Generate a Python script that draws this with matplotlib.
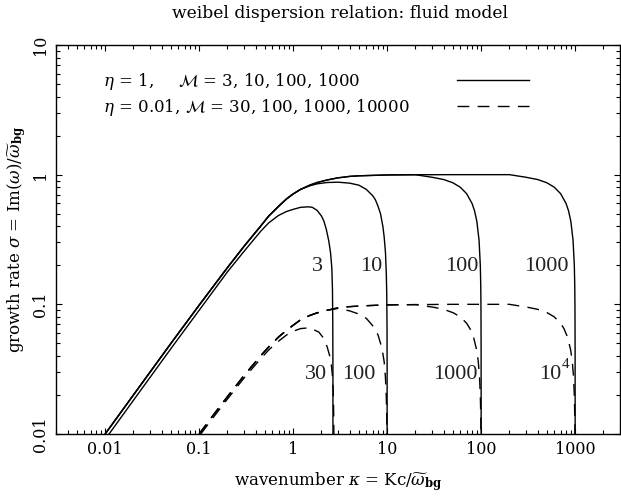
import matplotlib
import matplotlib.pyplot as plt
from matplotlib.ticker import FixedLocator, FixedFormatter, LogLocator, NullFormatter

matplotlib.use("Agg")

plt.rcParams["font.family"] = "DejaVu Serif"
plt.rcParams["mathtext.fontset"] = "dejavuserif"

# eta = 1 (solid), common envelope for large M
k_env1 = [0.01, 0.02, 0.05, 0.1, 0.2, 0.3, 0.45, 0.55, 0.7, 0.85, 1.0, 1.2,
          1.5, 1.8, 2.3, 3, 4, 5, 8, 10, 20, 50, 100, 200]
s_env1 = [0.0100, 0.0200, 0.0499, 0.0985, 0.192, 0.28, 0.40, 0.48, 0.57, 0.65,
          0.71, 0.77, 0.83, 0.87, 0.91, 0.945, 0.97, 0.98, 0.99, 0.995, 0.999,
          1.0, 1.0, 1.0]

k_m3 = [0.011, 0.02, 0.05, 0.1, 0.2, 0.3, 0.45, 0.55, 0.7, 0.85, 1.0, 1.2, 1.45,
        1.6, 1.8, 2.0, 2.12, 2.25, 2.39, 2.5, 2.58, 2.62, 2.64, 2.65, 2.652]
s_m3 = [0.0100, 0.0182, 0.0455, 0.090, 0.178, 0.256, 0.365, 0.425, 0.485, 0.52,
        0.54, 0.56, 0.565, 0.56, 0.53, 0.48, 0.44, 0.38, 0.31, 0.25, 0.19,
        0.13, 0.07, 0.03, 0.001]

k_m10 = [1.5, 1.8, 2.3, 3, 4, 5, 6, 7, 7.5, 8, 8.5, 9, 9.3, 9.6, 9.8, 9.9,
         9.97, 9.995, 10]
s_m10 = [0.82, 0.85, 0.87, 0.875, 0.86, 0.83, 0.77, 0.69, 0.64, 0.57, 0.50,
         0.40, 0.33, 0.25, 0.17, 0.12, 0.065, 0.03, 0.001]

k_m100 = [30, 40, 50, 60, 70, 80, 85, 90, 95, 98, 99, 99.5, 99.9, 99.99, 100]
s_m100 = [0.955, 0.917, 0.866, 0.80, 0.714, 0.60, 0.527, 0.436, 0.312, 0.199,
          0.141, 0.10, 0.045, 0.014, 0.001]

k_m1000 = [300, 400, 500, 600, 700, 800, 850, 900, 950, 980, 990, 995, 999,
           999.9, 1000]
s_m1000 = [0.955, 0.917, 0.866, 0.80, 0.714, 0.60, 0.527, 0.436, 0.312, 0.199,
           0.141, 0.10, 0.045, 0.014, 0.001]

# eta = 0.01 (dashed), common envelope for large M
k_env2 = [0.1, 0.15, 0.2, 0.3, 0.45, 0.55, 0.7, 0.85, 1.0, 1.2, 1.5, 1.8, 2.3,
          3, 4, 5, 8, 10, 20, 50, 100, 200]
s_env2 = [0.0100, 0.0148, 0.0194, 0.0282, 0.040, 0.047, 0.056, 0.063, 0.069,
          0.076, 0.082, 0.086, 0.090, 0.094, 0.096, 0.097, 0.0985, 0.099,
          0.0995, 0.100, 0.100, 0.100]

k_m30 = [0.104, 0.15, 0.2, 0.3, 0.45, 0.55, 0.7, 0.85, 1.0, 1.2, 1.5, 1.88, 2.1,
         2.3, 2.45, 2.55, 2.62, 2.67, 2.70, 2.715, 2.72]
s_m30 = [0.0100, 0.0142, 0.0186, 0.027, 0.038, 0.0445, 0.052, 0.058, 0.062,
         0.065, 0.066, 0.061, 0.055, 0.047, 0.040, 0.034, 0.028, 0.021, 0.014,
         0.009, 0.001]

k_m100d = [3, 4, 4.8, 6, 7.2, 8, 8.8, 9.3, 9.6, 9.8, 9.9, 9.95, 9.99, 10]
s_m100d = [0.093, 0.089, 0.085, 0.078, 0.067, 0.058, 0.046, 0.036, 0.027,
           0.019, 0.0137, 0.0097, 0.0043, 0.001]

k_m1000d = [31, 40, 50.6, 60, 70, 76, 83, 89.5, 93, 96, 98, 99, 99.5, 99.9, 100]
s_m1000d = [0.095, 0.0915, 0.086, 0.080, 0.0715, 0.065, 0.0558, 0.0446, 0.0368,
            0.028, 0.0199, 0.0141, 0.010, 0.0045, 0.001]

k_m10000d = [310, 400, 506, 600, 700, 760, 830, 895, 930, 960, 980, 990, 995,
             999, 1000]
s_m10000d = [0.095, 0.0915, 0.086, 0.080, 0.0715, 0.065, 0.0558, 0.0446, 0.0368,
             0.028, 0.0199, 0.0141, 0.010, 0.0045, 0.001]

xticks = [0.01, 0.1, 1, 10, 100, 1000]
xticklabels = ["0.01", "0.1", "1", "10", "100", "1000"]
yticks = [0.01, 0.1, 1, 10]
yticklabels = ["0.01", "0.1", "1", "10"]

solid_labels = ["3", "10", "100", "1000"]
solid_label_k = [1.8, 6.7, 62, 495]
dashed_labels = ["30", "100", "1000", "10"]
dashed_label_k = [1.73, 5.0, 52.7, 545]


def join_env(k_env, s_env, k_drop, s_drop):
    # envelope up to where the drop part takes over
    ks = [k for k in k_env if k < k_drop[0]]
    ss = [s for k, s in zip(k_env, s_env) if k < k_drop[0]]
    return ks + k_drop, ss + s_drop


W, H = 621, 499
fig = plt.figure(figsize=(W / 100, H / 100), dpi=100)
ax = fig.add_axes([56 / W, 65 / H, 564 / W, 389 / H])

lw = 1.0
dash = (8.5, 6)

ax.plot(k_m3, s_m3, color="black", lw=lw)
for kd, sd in [(k_m10, s_m10), (k_m100, s_m100), (k_m1000, s_m1000)]:
    ks, ss = join_env(k_env1, s_env1, kd, sd)
    ax.plot(ks, ss, color="black", lw=lw)

ax.plot(k_m30, s_m30, color="black", lw=lw, dashes=dash)
for kd, sd in [(k_m100d, s_m100d), (k_m1000d, s_m1000d), (k_m10000d, s_m10000d)]:
    ks, ss = join_env(k_env2, s_env2, kd, sd)
    ax.plot(ks, ss, color="black", lw=lw, dashes=dash)

ax.set_xscale("log")
ax.set_yscale("log")
ax.set_xlim(0.003, 3000)
ax.set_ylim(0.01, 10)

ax.xaxis.set_major_locator(FixedLocator(xticks))
ax.xaxis.set_major_formatter(FixedFormatter(xticklabels))
ax.yaxis.set_major_locator(FixedLocator(yticks))
ax.yaxis.set_major_formatter(FixedFormatter(yticklabels))
ax.xaxis.set_minor_locator(LogLocator(base=10, subs=range(2, 10), numticks=20))
ax.yaxis.set_minor_locator(LogLocator(base=10, subs=range(2, 10), numticks=20))
ax.xaxis.set_minor_formatter(NullFormatter())
ax.yaxis.set_minor_formatter(NullFormatter())

ax.tick_params(which="both", direction="in", top=True, right=True,
               width=0.8, labelsize=11.5)
ax.tick_params(which="major", length=4.5)
ax.tick_params(which="minor", length=2.6)
ax.tick_params(axis="x", pad=5)
ax.tick_params(axis="y", pad=5)
for lab in ax.get_yticklabels():
    lab.set_rotation(90)
    lab.set_va("center")
    lab.set_ha("right")
for sp in ax.spines.values():
    sp.set_linewidth(1.0)

for lab, k in zip(solid_labels, solid_label_k):
    ax.text(k, 0.197, lab, ha="center", va="center", fontsize=16,
            family="Liberation Serif", color="#222222")
for lab, k in zip(dashed_labels, dashed_label_k):
    ax.text(k, 0.029, lab, ha="center", va="center", fontsize=16,
            family="Liberation Serif", color="#222222")
# superscript of the 10^4 label
ax.text(725, 0.0345, "4", ha="left", va="center", fontsize=11,
        family="Liberation Serif", color="#222222")


# legend block, positions in pixels of the figure
def fx(px):
    return (px - 56) / 564


def fy(py):
    return 1 - (py - 45) / 389


legend_fs = 12
ax.text(fx(103), fy(81), r"$\eta$ = 1,", transform=ax.transAxes,
        fontsize=legend_fs, va="center")
ax.text(fx(178), fy(81), r"$\mathcal{M}$ = 3, 10, 100, 1000",
        transform=ax.transAxes, fontsize=legend_fs, va="center")
ax.text(fx(103), fy(107), r"$\eta$ = 0.01, $\mathcal{M}$ = 30, 100, 1000, 10000",
        transform=ax.transAxes, fontsize=legend_fs, va="center")
ax.plot([fx(457), fx(529)], [fy(80)] * 2, transform=ax.transAxes,
        color="black", lw=lw)
ax.plot([fx(457), fx(529)], [fy(106)] * 2, transform=ax.transAxes,
        color="black", lw=lw, dashes=dash)

fig.text(340 / W, 1 - 14 / H, "weibel dispersion relation: fluid model",
         ha="center", va="center", fontsize=12.3)
ax.set_xlabel(r"wavenumber $\kappa$ = Kc/$\widetilde{\omega}_{\mathbf{bg}}$",
              fontsize=12, labelpad=9)
ax.set_ylabel(r"growth rate $\sigma$ = Im($\omega$)/$\widetilde{\omega}_{\mathbf{bg}}$",
              fontsize=12, labelpad=3)

fig.savefig("out.png", dpi=100)
